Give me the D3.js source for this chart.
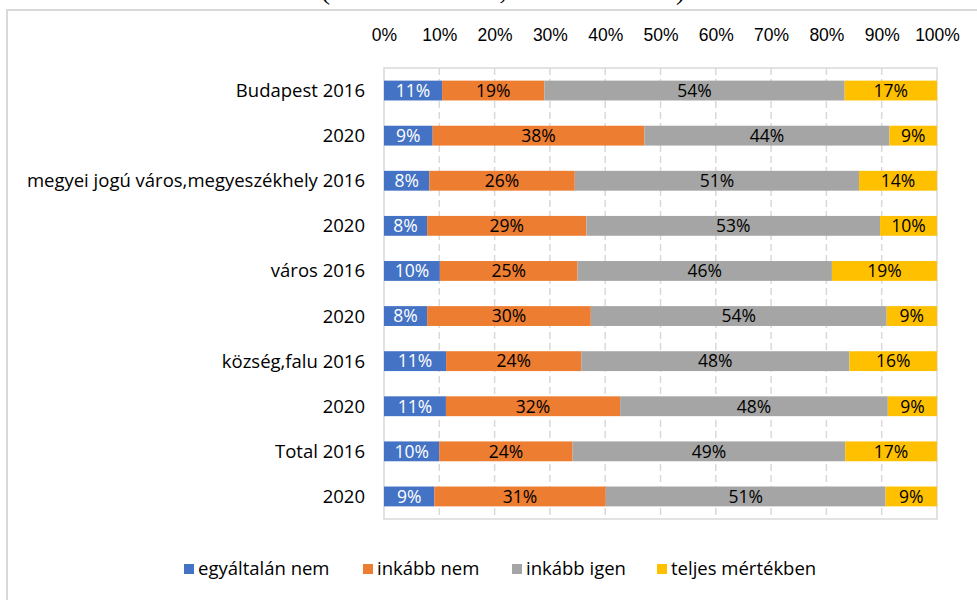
<!DOCTYPE html>
<html>
<head>
<meta charset="utf-8">
<script src="https://cdn.jsdelivr.net/npm/d3@7"></script>
<style>
  body { margin: 0; background: #fff; }
  svg { display: block; font-family: "Open Sans", "Noto Sans", sans-serif; }
</style>
</head>
<body>
<svg id="chart" width="977" height="600"></svg>
<script>
"use strict";

// rows, top to bottom
const rows = [
  "Budapest 2016", "2020",
  "megyei jogú város,megyeszékhely 2016", "2020",
  "város 2016", "2020",
  "község,falu 2016", "2020",
  "Total 2016", "2020"
];
const series = ["egyáltalán nem", "inkább nem", "inkább igen", "teljes mértékben"];
const colors = ["#4472C4", "#ED7D31", "#A5A5A5", "#FFC000"];

// shares (%)
const egyaltalanNem = [10.5, 8.8, 8.2, 7.8, 10.1, 7.8, 11.2, 11.2, 10.0, 9.1];
const inkabbNem     = [18.5, 38.3, 26.3, 28.8, 24.9, 29.6, 24.4, 31.5, 24.1, 31.0];
const inkabbIgen    = [54.3, 44.3, 51.4, 53.1, 46.0, 53.5, 48.4, 48.4, 49.3, 50.6];
const teljesen      = [16.7, 8.6, 14.1, 10.3, 19.0, 9.1, 15.8, 8.9, 16.6, 9.3];

const tickValues = [0, .1, .2, .3, .4, .5, .6, .7, .8, .9, 1];

const table = rows.map((r, i) => ({
  key: i,
  label: r,
  "egyáltalán nem": egyaltalanNem[i],
  "inkább nem": inkabbNem[i],
  "inkább igen": inkabbIgen[i],
  "teljes mértékben": teljesen[i]
}));

const svg = d3.select("#chart");
const plot = { left: 384, right: 937, top: 68, bottom: 519 };
const fs = "17.5px";
const fsLabel = "18.5px";

// frame around the whole chart (runs off the page)
svg.append("rect")
  .attr("x", 7).attr("y", 10).attr("width", 1000).attr("height", 620)
  .attr("fill", "none").attr("stroke", "#d9d9d9").attr("stroke-width", 2);

// title, mostly cut off at the top
svg.append("text")
  .attr("x", 503).attr("y", -1)
  .attr("text-anchor", "middle")
  .style("font-family", "'Liberation Serif', serif")
  .style("font-size", "28px")
  .attr("fill", "#000")
  .text("(N2016 = 7 059; N2020 = 1879)");

const x = d3.scaleLinear().domain([0, 1]).range([plot.left, plot.right]);
const y = d3.scaleBand().domain(d3.range(rows.length))
  .range([plot.top, plot.bottom]).paddingInner(0.56).paddingOuter(0.28);

// dashed gridlines
svg.append("g").selectAll("line")
  .data(tickValues.slice(1, -1))
  .join("line")
  .attr("x1", d => x(d)).attr("x2", d => x(d))
  .attr("y1", plot.top).attr("y2", plot.bottom)
  .attr("stroke", "#d9d9d9").attr("stroke-width", 1.5)
  .attr("stroke-dasharray", "7,4");

svg.append("rect")
  .attr("x", plot.left).attr("y", plot.top)
  .attr("width", plot.right - plot.left).attr("height", plot.bottom - plot.top)
  .attr("fill", "none").attr("stroke", "#d9d9d9").attr("stroke-width", 1.5);

// top axis
const xAxis = svg.append("g")
  .attr("transform", `translate(0,${plot.top - 24})`)
  .call(d3.axisTop(x).tickValues(tickValues).tickFormat(d3.format(".0%")).tickSize(0));
xAxis.select(".domain").remove();
xAxis.selectAll("text").attr("fill", "#000").style("font-size", fs);

// category labels
svg.append("g").selectAll("text")
  .data(table)
  .join("text")
  .attr("x", 365)
  .attr("y", d => y(d.key) + y.bandwidth() / 2)
  .attr("dy", "0.35em")
  .attr("text-anchor", "end")
  .attr("fill", "#000")
  .style("font-size", fsLabel)
  .text(d => d.label);

const stacked = d3.stack().keys(series).offset(d3.stackOffsetExpand)(table);

const layer = svg.append("g").selectAll("g")
  .data(stacked)
  .join("g")
  .attr("fill", (d, i) => colors[i]);

layer.selectAll("rect")
  .data(d => d)
  .join("rect")
  .attr("x", d => x(d[0]))
  .attr("width", d => x(d[1]) - x(d[0]))
  .attr("y", d => y(d.data.key))
  .attr("height", y.bandwidth());

// value labels
layer.selectAll("text")
  .data((d, i) => d.map(v => ({ v, i, key: d.key })))
  .join("text")
  .attr("x", d => (x(d.v[0]) + x(d.v[1])) / 2)
  .attr("y", d => y(d.v.data.key) + y.bandwidth() / 2)
  .attr("dy", "0.36em")
  .attr("text-anchor", "middle")
  .attr("fill", d => d.i === 0 ? "#fff" : "#000")
  .style("font-size", fs)
  .text(d => Math.round(d.v.data[d.key]) + "%");

// legend
const legendX = [184, 363, 512, 657];
const legend = svg.append("g").selectAll("g")
  .data(series)
  .join("g")
  .attr("transform", (d, i) => `translate(${legendX[i]},564)`);
legend.append("rect")
  .attr("width", 10).attr("height", 10)
  .attr("fill", (d, i) => colors[i]);
legend.append("text")
  .attr("x", 14).attr("y", 5).attr("dy", "0.35em")
  .attr("fill", "#000")
  .style("font-size", fsLabel)
  .text(d => d);
</script>
</body>
</html>
